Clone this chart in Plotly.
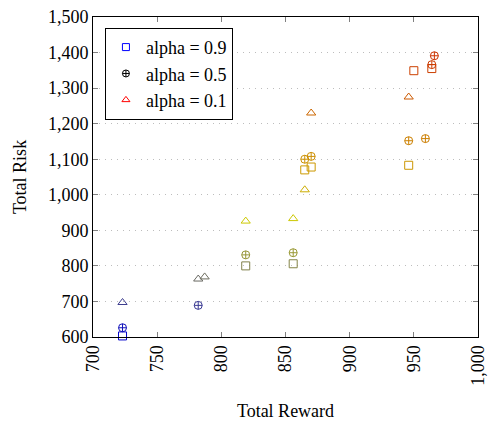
import plotly.graph_objects as go

# alpha = 0.9 (squares)
reward_a09 = [723, 819, 856, 865, 870, 946, 950, 964]
risk_a09 = [603, 800, 806, 1070, 1078, 1083, 1349, 1355]
# alpha = 0.5 (crossed circles)
reward_a05 = [723, 782, 819, 856, 865, 870, 946, 959, 964, 966]
risk_a05 = [626, 689, 831, 837, 1100, 1108, 1152, 1158, 1366, 1391]
# alpha = 0.1 (triangles)
reward_a01 = [723, 782, 787, 819, 856, 865, 870, 946]
risk_a01 = [697, 763, 769, 926, 933, 1014, 1230, 1275]

labels = ["alpha = 0.9", "alpha = 0.5", "alpha = 0.1"]
legend_colors = ["#0000ff", "#000000", "#ff0000"]
symbols = ["square-open", "circle-cross-open", "triangle-up-open"]

x_ticks = [700, 750, 800, 850, 900, 950, 1000]
y_ticks = [600, 700, 800, 900, 1000, 1100, 1200, 1300, 1400, 1500]

# pgfplots default "hot" colormap (blue -> yellow -> orange -> red),
# marks drawn with mapped color!80!black
hot = [[0.0, "rgb(0,0,204)"], [1/3, "rgb(204,204,0)"],
       [2/3, "rgb(204,102,0)"], [1.0, "rgb(204,0,0)"]]
color_min, color_max = 600, 1550

FONT = "Liberation Serif"
fig = go.Figure()
series = [(reward_a09, risk_a09), (reward_a05, risk_a05), (reward_a01, risk_a01)]
for (xs, ys), sym in zip(series, symbols):
    fig.add_trace(go.Scatter(
        x=xs, y=ys, mode="markers", showlegend=False, cliponaxis=False,
        marker=dict(symbol=sym, size=8, color=ys, colorscale=hot,
                    cmin=color_min, cmax=color_max, line=dict(width=1))))
for lab, col, sym in zip(labels, legend_colors, symbols):
    fig.add_trace(go.Scatter(
        x=[None], y=[None], mode="markers", name=lab,
        marker=dict(symbol=sym, size=7, color=col, line=dict(width=1, color=col))))

axis_common = dict(
    showline=True, linecolor="black", linewidth=1, mirror="ticks",
    ticks="inside", ticklen=5, tickcolor="#808080", tickwidth=1,
    tickformat=",", tickfont=dict(family=FONT, size=18, color="black"),
    zeroline=False, automargin=False,
)
fig.update_xaxes(range=[700, 1000], tickvals=x_ticks, tickangle=-90,
                 showgrid=False, title=dict(text="Total Reward", standoff=22,
                 font=dict(family=FONT, size=18, color="black")),
                 **axis_common)
fig.update_yaxes(range=[600, 1500], tickvals=y_ticks, showgrid=True,
                 gridcolor="#bdbdbd", griddash="1px,5px", gridwidth=1,
                 title=dict(text="Total Risk", standoff=16,
                 font=dict(family=FONT, size=18, color="black")),
                 **axis_common)

fig.update_layout(
    width=489, height=421,
    margin=dict(l=93, r=11, t=17, b=84),
    paper_bgcolor="white", plot_bgcolor="white",
    font=dict(family=FONT, size=18, color="black"),
    legend=dict(x=0.031, y=0.966, xanchor="left", yanchor="top",
                bgcolor="white", bordercolor="black", borderwidth=1,
                font=dict(family=FONT, size=18), itemwidth=30,
                tracegroupgap=0),
)
fig.write_html("out.html")
